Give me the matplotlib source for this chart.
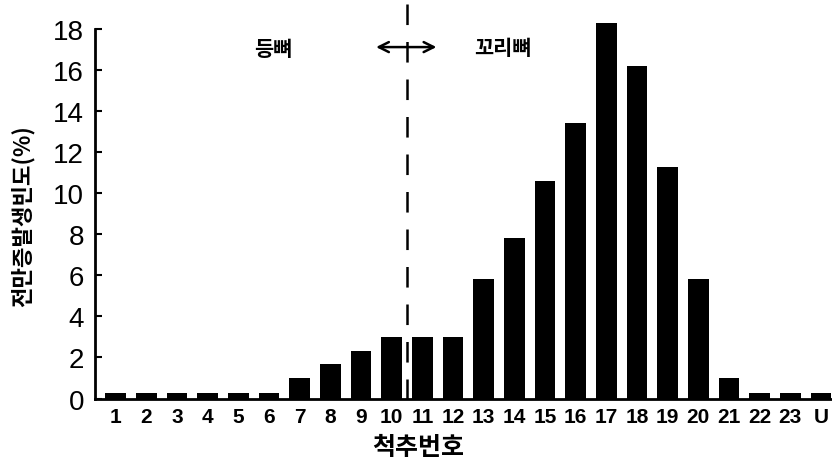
import matplotlib
matplotlib.use("Agg")
import matplotlib.pyplot as plt

# vertebra categories and lordosis frequency (%)
vertebrae = ["1", "2", "3", "4", "5", "6", "7", "8", "9", "10", "11", "12",
             "13", "14", "15", "16", "17", "18", "19", "20", "21", "22", "23", "U"]
frequency = [0.25, 0.25, 0.25, 0.25, 0.25, 0.25, 1.0, 1.7, 2.3, 3.0, 3.0, 3.0,
             5.8, 7.8, 10.6, 13.4, 18.3, 16.2, 11.3, 5.8, 1.0, 0.25, 0.25, 0.25]
y_ticks = [0, 2, 4, 6, 8, 10, 12, 14, 16, 18]

# boundary between trunk and tail vertebrae
boundary = 10.5

KR = ["Noto Sans CJK KR", "DejaVu Sans"]
NUM = ["Liberation Sans", "DejaVu Sans"]

fig = plt.figure(figsize=(8.32, 4.64), dpi=100)
ax = fig.add_axes([0.1142, 0.139, 0.8858, 0.7963])

positions = list(range(1, len(vertebrae) + 1))
ax.bar(positions, frequency, width=0.68, color="black", clip_on=False)

ax.set_xlim(0.325, 24.36)
ax.set_ylim(0, 18)
ax.set_xticks(positions)
ax.set_xticklabels(vertebrae, fontfamily=NUM, fontweight="bold", fontsize=15)
ax.set_yticks(y_ticks)
ax.set_yticklabels([str(v) for v in y_ticks], fontfamily=NUM, fontsize=20)
ax.tick_params(axis="x", length=0, pad=6)
ax.tick_params(axis="y", direction="in", length=5, width=1.5, pad=8)

for side in ("top", "right"):
    ax.spines[side].set_visible(False)
for side in ("left", "bottom"):
    ax.spines[side].set_linewidth(2.0)

# dashed boundary line
ax.plot([boundary, boundary], [19.2, 0], color="black", lw=1.8,
        dashes=(14.8 / 1.8, 12.2 / 1.8), clip_on=False)

# double-headed arrow across the boundary
ax.annotate("", xy=(9.4, 17.12), xytext=(11.55, 17.12),
            arrowprops=dict(arrowstyle="<->", color="black", lw=1.8,
                            mutation_scale=18), annotation_clip=False)

ax.text(6.13, 17.05, "등뼈", fontfamily=KR, fontweight="heavy", fontsize=15,
        ha="center", va="center")
ax.text(13.63, 17.1, "꼬리뼈", fontfamily=KR, fontweight="heavy", fontsize=15,
        ha="center", va="center")

fig.text(0.027, 0.535, "전만증발생빈도(%)", fontfamily=KR, fontweight="heavy",
         fontsize=16, rotation=90, ha="center", va="center")
fig.text(0.503, 0.035, "척추번호", fontfamily=KR, fontweight="heavy",
         fontsize=18, ha="center", va="center")

fig.savefig("out.png", dpi=100)
